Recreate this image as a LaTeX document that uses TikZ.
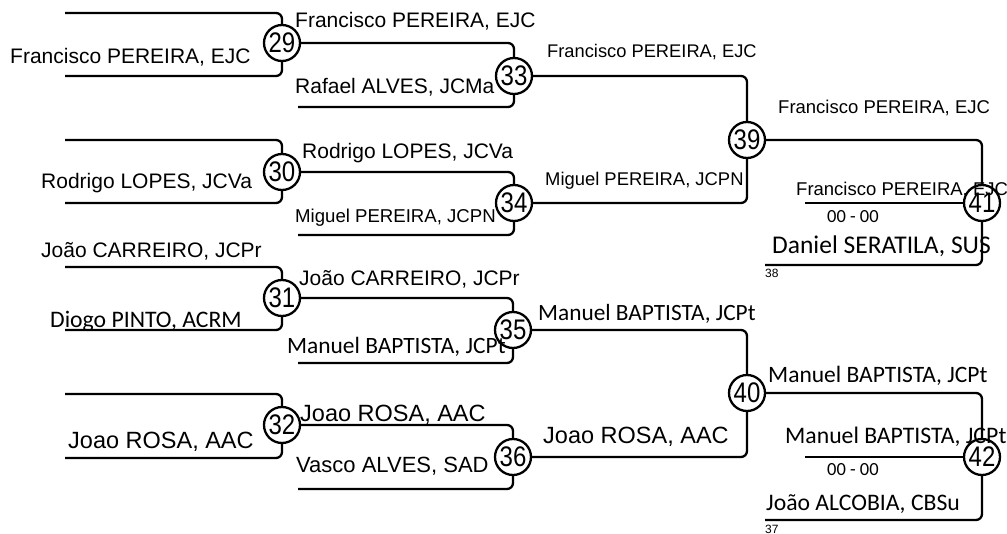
\documentclass[tikz,border=0pt]{standalone}
\usepackage{fontspec}
\setmainfont{Liberation Sans}
\newfontfamily\carl{Carlito}
\newcommand{\tallnum}[1]{\scalebox{1}[1.18]{#1}}
\begin{document}
\begin{tikzpicture}[x=1pt,y=-1pt,
  ln/.style={line width=2.3pt, rounded corners=6pt},
  mt/.style={circle, draw, line width=2.3pt, minimum size=36pt, inner sep=0pt, fill=white, font=\fontsize{24}{24}\selectfont},
  lab/.style={anchor=base west, inner sep=0pt, font=\fontsize{#1}{#1}\selectfont},
  clab/.style={anchor=base west, inner sep=0pt, font=\carl\fontsize{#1}{#1}\selectfont}]
\useasboundingbox (0,0) rectangle (1007,533);
% match circles
\node[mt] (c29) at (282,43) {\tallnum{29}};
\node[mt] (c30) at (282,172) {\tallnum{30}};
\node[mt] (c31) at (282,298) {\tallnum{31}};
\node[mt] (c32) at (282,425) {\tallnum{32}};
\node[mt] (c33) at (514,76) {\tallnum{33}};
\node[mt] (c34) at (514,203) {\tallnum{34}};
\node[mt] (c35) at (513,330) {\tallnum{35}};
\node[mt] (c36) at (513,457) {\tallnum{36}};
\node[mt] (c39) at (747,140) {\tallnum{39}};
\node[mt] (c40) at (747,393) {\tallnum{40}};
\node[mt] (c41) at (982,203) {\tallnum{41}};
\node[mt] (c42) at (982,457) {\tallnum{42}};
% free ends
\coordinate (t29) at (65,13);  \coordinate (b29) at (65,76);
\coordinate (t30) at (65,140); \coordinate (b30) at (65,203);
\coordinate (t31) at (65,267); \coordinate (b31) at (65,330);
\coordinate (t32) at (65,394); \coordinate (b32) at (65,458);
\coordinate (b33) at (298,107); \coordinate (b34) at (298,235);
\coordinate (b35) at (298,363); \coordinate (b36) at (298,489);
\coordinate (l41) at (805,203); \coordinate (b41) at (765,265);
\coordinate (l42) at (805,457); \coordinate (b42) at (765,520);
% connectors
\draw[ln] (t29) -| (c29); \draw[ln] (b29) -| (c29);
\draw[ln] (t30) -| (c30); \draw[ln] (b30) -| (c30);
\draw[ln] (t31) -| (c31); \draw[ln] (b31) -| (c31);
\draw[ln] (t32) -| (c32); \draw[ln] (b32) -| (c32);
\draw[ln] (c29) -| (c33); \draw[ln] (b33) -| (c33);
\draw[ln] (c30) -| (c34); \draw[ln] (b34) -| (c34);
\draw[ln] (c31) -| (c35); \draw[ln] (b35) -| (c35);
\draw[ln] (c32) -| (c36); \draw[ln] (b36) -| (c36);
\draw[ln] (c33) -| (c39); \draw[ln] (c34) -| (c39);
\draw[ln] (c35) -| (c40); \draw[ln] (c36) -| (c40);
\draw[ln] (c39) -| (c41); \draw[ln] (l41) -- (c41); \draw[ln] (b41) -| (c41);
\draw[ln] (c40) -| (c42); \draw[ln] (l42) -- (c42); \draw[ln] (b42) -| (c42);
% round 1 labels
\node[lab=21] (n29) at (10,63) {Francisco PEREIRA, EJC};
\node[lab=21] (n30) at (41,188) {Rodrigo LOPES, JCVa};
\node[lab=21] (n31a) at (41,257) {João CARREIRO, JCPr};
\node[clab=23.7] (n31b) at (50,327) {Diogo PINTO, ACRM};
\node[lab=23.5] (n32) at (68,448) {Joao ROSA, AAC};
% round 2 labels
\node[lab=21] (n33a) at (295,27) {Francisco PEREIRA, EJC};
\node[lab=21] (n33b) at (295,93) {Rafael ALVES, JCMa};
\node[lab=21] (n34a) at (302,158) {Rodrigo LOPES, JCVa};
\node[lab=18.6] (n34b) at (295,222) {Miguel PEREIRA, JCPN};
\node[lab=21] (n35a) at (299,285) {João CARREIRO, JCPr};
\node[clab=23.4] (n35b) at (287,353) {Manuel BAPTISTA, JCPt};
\node[lab=23.5] (n36a) at (300,421) {Joao ROSA, AAC};
\node[lab=22] (n36b) at (296,472) {Vasco ALVES, SAD};
% round 3 labels
\node[lab=18.3] (n39a) at (547,57) {Francisco PEREIRA, EJC};
\node[lab=18.4] (n39b) at (545,185) {Miguel PEREIRA, JCPN};
\node[clab=23.3] (n40a) at (538,320) {Manuel BAPTISTA, JCPt};
\node[lab=23.5] (n40b) at (543,443) {Joao ROSA, AAC};
% round 4 labels
\node[lab=18.5] (n41a) at (778,113) {Francisco PEREIRA, EJC};
\node[lab=18.5] (n41b) at (796,195) {Francisco PEREIRA, EJC};
\node[clab=18.5] (s41) at (827,222) {00 - 00};
\node[clab=25.5] (n41c) at (772,253) {Daniel SERATILA, SUS};
\node[lab=12] (r41) at (765,277) {38};
\node[clab=23.5] (n42a) at (768,382) {Manuel BAPTISTA, JCPt};
\node[clab=23.7] (n42b) at (785,443) {Manuel BAPTISTA, JCPt};
\node[clab=18.5] (s42) at (827,475) {00 - 00};
\node[clab=23.7] (n42c) at (766,510) {João ALCOBIA, CBSu};
\node[lab=12] (r42) at (765,533) {37};
\end{tikzpicture}
\end{document}
